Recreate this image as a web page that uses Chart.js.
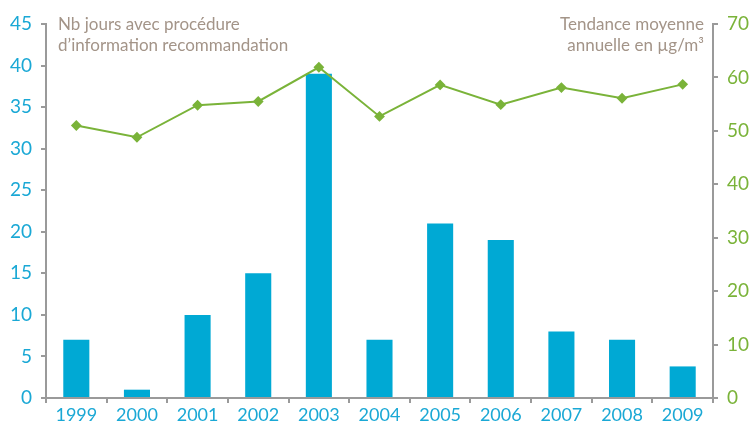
<!DOCTYPE html>
<html>
<head>
<meta charset="utf-8">
<script src="https://cdn.jsdelivr.net/npm/chart.js@4.4.1/dist/chart.umd.min.js"></script>
<style>
    html, body { margin:0; padding:0; background:#fff; }
    #wrap { width:749px; height:421px; position:relative; }
</style>
</head>
<body>
<div id="wrap"><canvas id="chart"></canvas></div>
<script>
const years = ["1999","2000","2001","2002","2003","2004","2005","2006","2007","2008","2009"];
const joursProcedure = [7, 1, 10, 15, 39, 7, 21, 19, 8, 7, 3.8];
const tendanceMoyenne = [51.0, 48.8, 54.8, 55.5, 61.9, 52.7, 58.6, 54.9, 58.1, 56.1, 58.7];
const leftTitle = ["Nb jours avec procédure", "d’information recommandation"];
const rightTitle = ["Tendance moyenne", "annuelle en µg/m³"];

const BLUE = "#00a9d4";
const GREEN = "#7ab339";
const AXIS = "#9a9a9a";
const TITLE = "#a39488";
const FONT = "Lato";

const titlesPlugin = {
    id:"titles",
    afterDraw(chart){
        const ctx = chart.ctx;
        ctx.save();
        ctx.fillStyle = TITLE;
        ctx.font = `17px ${FONT}`;
        ctx.textBaseline = "alphabetic";
        ctx.textAlign = "left";
        ctx.fillText(leftTitle[0], 58, 30);
        ctx.fillText(leftTitle[1], 58, 51);
        ctx.textAlign = "right";
        ctx.fillText(rightTitle[0], 704, 30);
        ctx.fillText(rightTitle[1], 704, 51);
        ctx.restore();
    }
};

new Chart(document.getElementById("chart"), {
    data:{
        labels:years,
        datasets:[
            {
                type:"line",
                data:tendanceMoyenne,
                yAxisID:"y1",
                borderColor:GREEN,
                backgroundColor:GREEN,
                borderWidth:2,
                pointStyle:"rectRot",
                pointRadius:4,
                pointHoverRadius:4,
                tension:0,
                order:0
            },
            {
                type:"bar",
                data:joursProcedure,
                yAxisID:"y",
                backgroundColor:BLUE,
                barPercentage:0.43,
                categoryPercentage:1,
                order:1
            }
        ]
    },
    options:{
        responsive:true,
        maintainAspectRatio:false,
        animation:false,
        layout:{ padding:{ top:24, left:0, right:0, bottom:0 } },
        plugins:{ legend:{ display:false }, tooltip:{ enabled:false } },
        scales:{
            x:{
                offset:true,
                grid:{ offset:true, drawOnChartArea:false, drawTicks:true, tickLength:5, color:AXIS, lineWidth:2 },
                border:{ color:AXIS, width:2 },
                ticks:{ color:"#1aa8d5", font:{ family:FONT, size:18 }, padding:1 },
                afterFit(scale){ scale.height = 23; }
            },
            y:{
                position:"left",
                min:0,
                max:45,
                grid:{ drawOnChartArea:false, drawTicks:true, tickLength:5, color:AXIS, lineWidth:2 },
                border:{ color:AXIS, width:2 },
                ticks:{ stepSize:5, color:"#1aa8d5", font:{ family:FONT, size:19 }, padding:9 },
                afterFit(scale){ scale.width = 46; }
            },
            y1:{
                position:"right",
                min:0,
                max:70,
                grid:{ drawOnChartArea:false, drawTicks:true, tickLength:5, color:AXIS, lineWidth:2 },
                border:{ color:AXIS, width:2 },
                ticks:{ stepSize:10, color:GREEN, font:{ family:FONT, size:19 }, padding:9 },
                afterFit(scale){ scale.width = 36; }
            }
        }
    },
    plugins:[titlesPlugin]
});
</script>
</body>
</html>
